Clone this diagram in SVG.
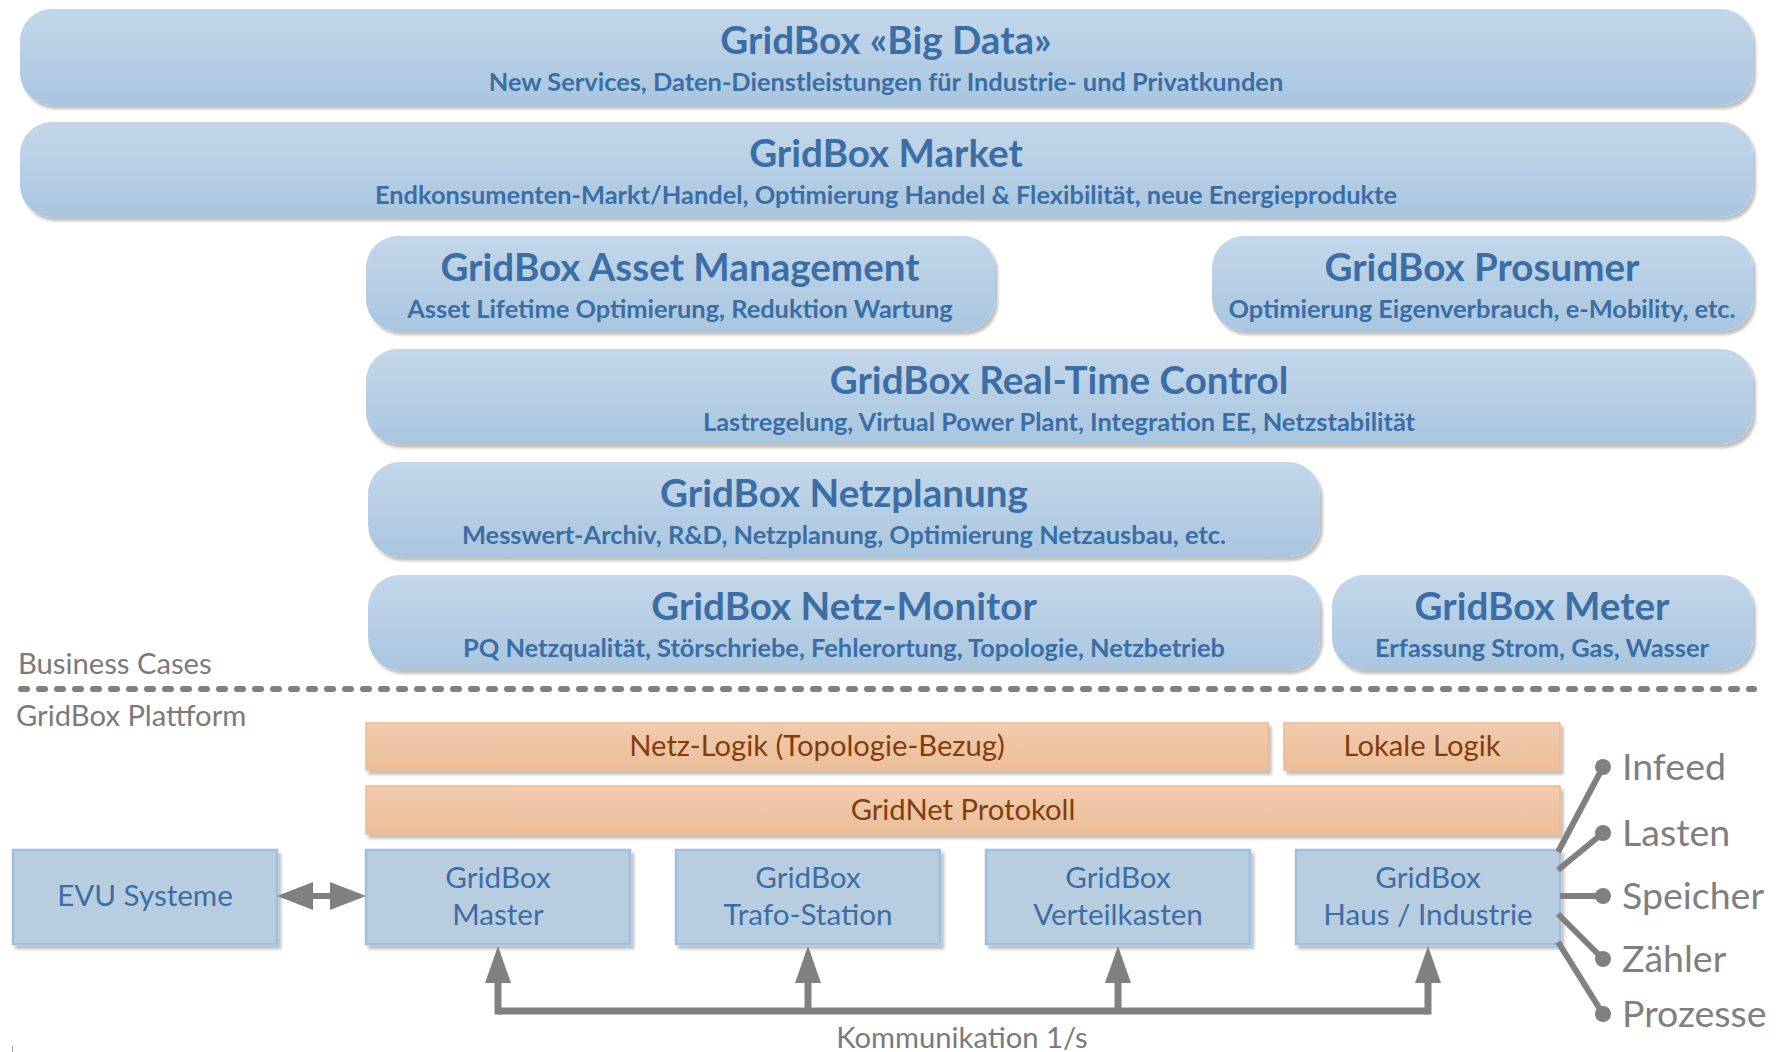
<svg xmlns="http://www.w3.org/2000/svg" width="1776" height="1052" viewBox="0 0 1776 1052">
<defs>
  <linearGradient id="gBlue" x1="0" y1="0" x2="0" y2="1">
    <stop offset="0" stop-color="#c4d7ea"/>
    <stop offset="1" stop-color="#a9c6e0"/>
  </linearGradient>
  <linearGradient id="gOrange" x1="0" y1="0" x2="0" y2="1">
    <stop offset="0" stop-color="#f1ccae"/>
    <stop offset="1" stop-color="#ebbe98"/>
  </linearGradient>
  <filter id="sh" x="-5%" y="-20%" width="112%" height="150%">
    <feGaussianBlur in="SourceAlpha" stdDeviation="1.5"/>
    <feOffset dx="3" dy="4" result="o"/>
    <feComponentTransfer><feFuncA type="linear" slope="0.25"/></feComponentTransfer>
    <feMerge><feMergeNode/><feMergeNode in="SourceGraphic"/></feMerge>
  </filter>
  <marker id="ah" markerUnits="userSpaceOnUse" markerWidth="40" markerHeight="30" refX="20" refY="13" orient="auto">
    <path d="M0,0 L37,13 L0,26 Z" fill="#808080"/>
  </marker>
</defs>
<style>
  .bc rect { fill: url(#gBlue); filter: url(#sh); }
  .t { font-family: Lato, "Liberation Sans", sans-serif; font-weight: 700; fill: #3b6ea5; text-anchor: middle; font-size: 38.6px; }
  .s { font-family: Lato, "Liberation Sans", sans-serif; font-weight: 700; fill: #3b6ea5; text-anchor: middle; font-size: 25.4px; }
  .pl rect { fill: url(#gOrange); stroke: #f2b88a; stroke-width: 1.5; filter: url(#sh); }
  .pt { font-family: Lato, "Liberation Sans", sans-serif; fill: #843c0c; text-anchor: middle; font-size: 29.2px; }
  .bx rect { fill: #b9cde1; stroke: #9dbfe0; stroke-width: 2.5; filter: url(#sh); }
  .bt { font-family: Lato, "Liberation Sans", sans-serif; fill: #3c6ea6; text-anchor: middle; font-size: 29.6px; }
  .g { font-family: Lato, "Liberation Sans", sans-serif; fill: #7a7a7a; font-size: 29.2px; }
  .lab { font-family: Lato, "Liberation Sans", sans-serif; fill: #7f7f7f; font-size: 37.5px; }
  .cn { stroke: #808080; fill: none; }
</style>

<rect width="1776" height="1052" fill="#ffffff"/>

<g id="bigdata" class="bc">
  <rect x="20" y="9" width="1733" height="96" rx="32"/>
  <text class="t" x="886" y="54">GridBox «Big Data»</text>
  <text class="s" x="886" y="91">New Services, Daten-Dienstleistungen für Industrie- und Privatkunden</text>
</g>
<g id="market" class="bc">
  <rect x="20" y="122" width="1733" height="95" rx="32"/>
  <text class="t" x="886" y="167">GridBox Market</text>
  <text class="s" x="886" y="204">Endkonsumenten-Markt/Handel, Optimierung Handel &amp; Flexibilität, neue Energieprodukte</text>
</g>
<g id="asset" class="bc">
  <rect x="366" y="236" width="629" height="95" rx="32"/>
  <text class="t" x="680" y="281">GridBox Asset Management</text>
  <text class="s" x="680" y="318">Asset Lifetime Optimierung, Reduktion Wartung</text>
</g>
<g id="prosumer" class="bc">
  <rect x="1212" y="236" width="541" height="95" rx="32"/>
  <text class="t" x="1482" y="281">GridBox Prosumer</text>
  <text class="s" x="1482" y="318">Optimierung Eigenverbrauch, e-Mobility, etc.</text>
</g>
<g id="realtime" class="bc">
  <rect x="366" y="349" width="1387" height="95" rx="32"/>
  <text class="t" x="1059" y="394">GridBox Real-Time Control</text>
  <text class="s" x="1059" y="431">Lastregelung, Virtual Power Plant, Integration EE, Netzstabilität</text>
</g>
<g id="netzplanung" class="bc">
  <rect x="368" y="462" width="952" height="95" rx="32"/>
  <text class="t" x="844" y="507">GridBox Netzplanung</text>
  <text class="s" x="844" y="544">Messwert-Archiv, R&amp;D, Netzplanung, Optimierung Netzausbau, etc.</text>
</g>
<g id="netzmonitor" class="bc">
  <rect x="368" y="575" width="952" height="95" rx="32"/>
  <text class="t" x="844" y="620">GridBox Netz-Monitor</text>
  <text class="s" x="844" y="657">PQ Netzqualität, Störschriebe, Fehlerortung, Topologie, Netzbetrieb</text>
</g>
<g id="meter" class="bc">
  <rect x="1332" y="575" width="421" height="95" rx="32"/>
  <text class="t" x="1542" y="620">GridBox Meter</text>
  <text class="s" x="1542" y="657">Erfassung Strom, Gas, Wasser</text>
</g>

<g id="section-labels">
  <text class="g" x="18" y="674">Business Cases</text>
  <line x1="21" y1="689" x2="1754" y2="689" stroke="#808080" stroke-width="6" stroke-linecap="round" stroke-dasharray="6 12"/>
  <text class="g" x="16" y="726">GridBox Plattform</text>
</g>

<g id="netzlogik" class="pl">
  <rect x="366" y="723" width="902" height="47"/>
  <text class="pt" x="817" y="756">Netz-Logik (Topologie-Bezug)</text>
</g>
<g id="lokalelogik" class="pl">
  <rect x="1284" y="723" width="276" height="47"/>
  <text class="pt" x="1422" y="756">Lokale Logik</text>
</g>
<g id="gridnet" class="pl">
  <rect x="366" y="786" width="1194" height="48"/>
  <text class="pt" x="963" y="820">GridNet Protokoll</text>
</g>

<g id="evu" class="bx">
  <rect x="13" y="850" width="264" height="94"/>
  <text class="bt" x="145" y="906">EVU Systeme</text>
</g>
<g id="master" class="bx">
  <rect x="366" y="850" width="264" height="94"/>
  <text class="bt" x="498" y="888">GridBox</text>
  <text class="bt" x="498" y="925">Master</text>
</g>
<g id="trafo" class="bx">
  <rect x="676" y="850" width="264" height="94"/>
  <text class="bt" x="808" y="888">GridBox</text>
  <text class="bt" x="808" y="925">Trafo-Station</text>
</g>
<g id="verteil" class="bx">
  <rect x="986" y="850" width="264" height="94"/>
  <text class="bt" x="1118" y="888">GridBox</text>
  <text class="bt" x="1118" y="925">Verteilkasten</text>
</g>
<g id="haus" class="bx">
  <rect x="1296" y="850" width="264" height="94"/>
  <text class="bt" x="1428" y="888">GridBox</text>
  <text class="bt" x="1428" y="925">Haus / Industrie</text>
</g>

<g id="connectors">
  <path d="M277,896 L313,882 L313,893 L330,893 L330,882 L366,896 L330,910 L330,899 L313,899 L313,910 Z" fill="#808080"/>
  <path class="cn" d="M498,1011 H1428" stroke-width="7"/>
  <path class="cn" d="M498,1014.5 V963" stroke-width="7" marker-end="url(#ah)"/>
  <path class="cn" d="M808,1011 V963" stroke-width="7" marker-end="url(#ah)"/>
  <path class="cn" d="M1118,1011 V963" stroke-width="7" marker-end="url(#ah)"/>
  <path class="cn" d="M1428,1014.5 V963" stroke-width="7" marker-end="url(#ah)"/>
  <g class="cn" stroke-width="6">
    <line x1="1558" y1="852" x2="1603" y2="767"/>
    <line x1="1558" y1="870" x2="1603" y2="833"/>
    <line x1="1560" y1="896" x2="1603" y2="896"/>
    <line x1="1558" y1="914" x2="1603" y2="959"/>
    <line x1="1558" y1="942" x2="1603" y2="1014"/>
  </g>
  <g fill="#808080">
    <circle cx="1603" cy="767" r="8"/>
    <circle cx="1603" cy="833" r="8"/>
    <circle cx="1603" cy="896" r="8"/>
    <circle cx="1603" cy="959" r="8"/>
    <circle cx="1603" cy="1014" r="8"/>
  </g>
</g>

<g id="io-labels">
  <text class="lab" x="1622" y="780">Infeed</text>
  <text class="lab" x="1622" y="846">Lasten</text>
  <text class="lab" x="1622" y="909">Speicher</text>
  <text class="lab" x="1622" y="972">Zähler</text>
  <text class="lab" x="1622" y="1027">Prozesse</text>
  <text class="g" x="962" y="1048" text-anchor="middle">Kommunikation 1/s</text>
</g>
<line x1="12.5" y1="1046" x2="12.5" y2="1052" stroke="#a0a0a0" stroke-width="1"/>
</svg>
